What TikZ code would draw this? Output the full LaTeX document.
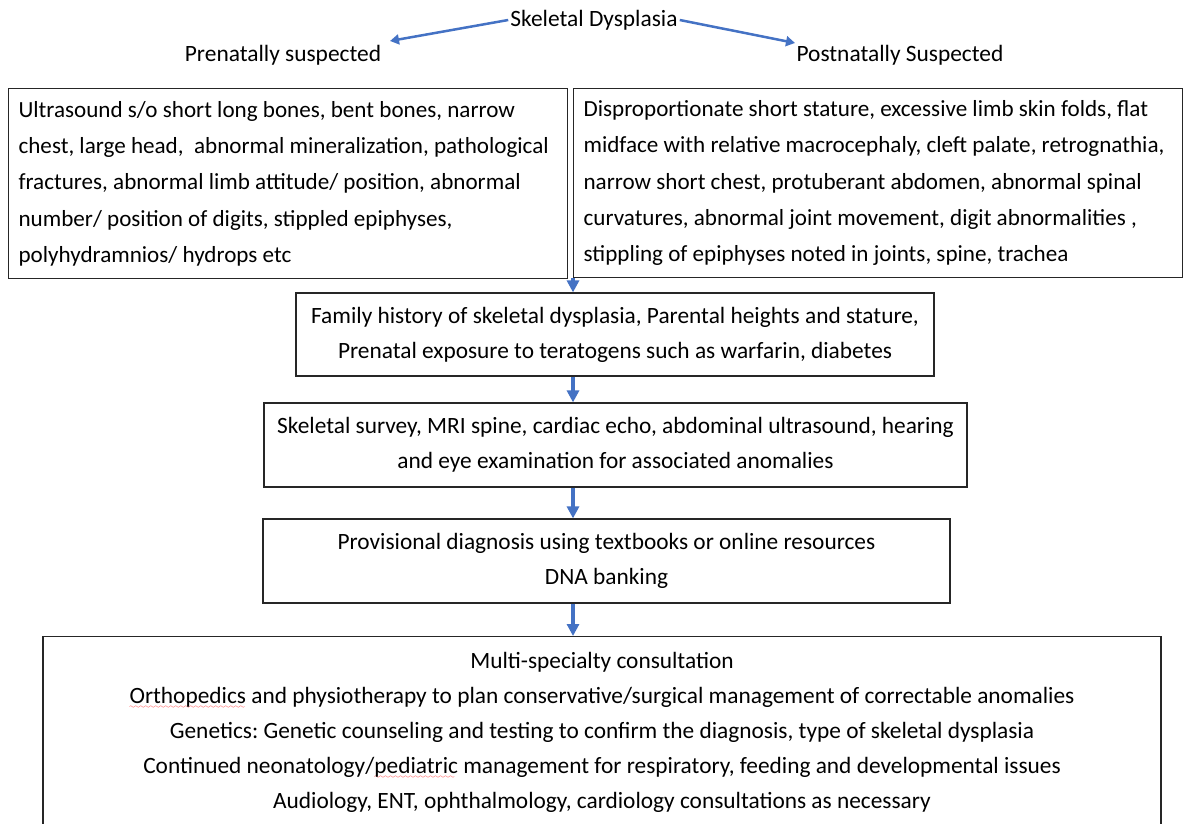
\documentclass[tikz,border=0pt]{standalone}
\usepackage{fontspec}
\setmainfont{Carlito}
\usetikzlibrary{arrows.meta}
\definecolor{flowblue}{RGB}{68,114,196}
\font\wavefont=lasy6 \relax
\newcommand{\spellwave}[1]{\leavevmode\setbox0\hbox{#1}\rlap{\textcolor{red}{\lower4.5pt\hbox to\wd0{\leaders\hbox{\wavefont\char58}\hfill}}}\box0\relax}
\frenchspacing
\hyphenpenalty=10000

\begin{document}
\begin{tikzpicture}[x=1pt,y=-1pt]
\tikzstyle{label}=[inner sep=2pt,font=\fontsize{23.4}{35}\selectfont]
\tikzstyle{box}=[draw=black!85,line width=1.2pt,inner sep=10pt,font=\fontsize{23.35}{35}\selectfont]
\tikzstyle{split}=[draw=flowblue,line width=2.5pt,-{Triangle[width=10pt,length=9pt]}]
\tikzstyle{flow}=[draw=flowblue,line width=4pt,-{Triangle[width=12pt,length=12pt]}]
\useasboundingbox (0,0) rectangle (1186,824);
%%%%%%%%%%%%%%%%%%%%%%%%%%%%%%%%%%%%%%%%%%%%%%%%%%%%%%%%%%%%%%%%%%%%%%%%%%%%%%%%%%%%%%%%
%% Draw title and branches
%%%%%%%%%%%%%%%%%%%%%%%%%%%%%%%%%%%%%%%%%%%%%%%%%%%%%%%%%%%%%%%%%%%%%%%%%%%%%%%%%%%%%%%%
\node[label] (title) at (594,20) {Skeletal Dysplasia};
\node[label] (prenatal) at (283,55) {Prenatally suspected};
\node[label] (postnatal) at (900,55) {Postnatally Suspected};
\coordinate (prenatal tip) at (390,41);
\coordinate (postnatal tip) at (795,43);

%%%%%%%%%%%%%%%%%%%%%%%%%%%%%%%%%%%%%%%%%%%%%%%%%%%%%%%%%%%%%%%%%%%%%%%%%%%%%%%%%%%%%%%%
%% Draw boxes
%%%%%%%%%%%%%%%%%%%%%%%%%%%%%%%%%%%%%%%%%%%%%%%%%%%%%%%%%%%%%%%%%%%%%%%%%%%%%%%%%%%%%%%%
% findings
\node[box,anchor=north west,text width=539pt,minimum height=190pt,align=flush left,
      font=\fontsize{23.1}{36.3}\selectfont] (ultrasound) at (8,88)
  {Ultrasound s/o short long bones, bent bones, narrow\\
   chest, large head,\ \ abnormal mineralization, pathological\\
   fractures, abnormal limb attitude/ position, abnormal\\
   number/ position of digits, stippled epiphyses,\\
   polyhydramnios/ hydrops etc};
\node[box,anchor=north west,text width=589pt,minimum height=189pt,align=flush left,
      font=\fontsize{23.1}{36.3}\selectfont] (exam) at (573,88)
  {Disproportionate short stature, excessive limb skin folds, flat\\
   midface with relative macrocephaly, cleft palate, retrognathia,\\
   narrow short chest, protuberant abdomen, abnormal spinal\\
   curvatures, abnormal joint movement, digit abnormalities ,\\
   stippling of epiphyses noted in joints, spine, trachea};
% work-up
\node[box,minimum width=638pt,minimum height=83pt,align=flush center] (history) at (615,334.5)
  {Family history of skeletal dysplasia, Parental heights and stature,\\
   Prenatal exposure to teratogens such as warfarin, diabetes};
\node[box,minimum width=703pt,minimum height=84pt,align=flush center] (survey) at (615.5,445)
  {Skeletal survey, MRI spine, cardiac echo, abdominal ultrasound, hearing\\
   and eye examination for associated anomalies};
\node[box,minimum width=687pt,minimum height=84pt,align=flush center] (provisional) at (606.5,561)
  {Provisional diagnosis using textbooks or online resources\\
   DNA banking};
\node[box,anchor=north,minimum width=1118pt,minimum height=192pt,align=flush center] (consult) at (602,636)
  {Multi-specialty consultation\\
   \spellwave{Orthopedics} and physiotherapy to plan conservative/surgical management of correctable anomalies\\
   Genetics: Genetic counseling and testing to confirm the diagnosis, type of skeletal dysplasia\\
   Continued neonatology/\spellwave{pediatric} management for respiratory, feeding and developmental issues\\
   Audiology, ENT, ophthalmology, cardiology consultations as necessary};

%%%%%%%%%%%%%%%%%%%%%%%%%%%%%%%%%%%%%%%%%%%%%%%%%%%%%%%%%%%%%%%%%%%%%%%%%%%%%%%%%%%%%%%%
%%% Draw connections
%%%%%%%%%%%%%%%%%%%%%%%%%%%%%%%%%%%%%%%%%%%%%%%%%%%%%%%%%%%%%%%%%%%%%%%%%%%%%%%%%%%%%%%%
\draw[split] (title.west) -- (prenatal tip);
\draw[split] (title.east) -- (postnatal tip);
\draw[flow] (exam.south west) -- (history.north -| exam.south west);
\draw[flow] (history.south -| exam.south west) -- (survey.north -| exam.south west);
\draw[flow] (survey.south -| exam.south west) -- (provisional.north -| exam.south west);
\draw[flow] (provisional.south -| exam.south west) -- (consult.north -| exam.south west);
%%%%%%%%%%%%%%%%%%%%%%%%%%%%%%%%%%%%%%%%%%%%%%%%%%%%%%%%%%%%%%%%%%%%%%%%%%%%%%%%%%%%%%%%

\end{tikzpicture}
\end{document}
